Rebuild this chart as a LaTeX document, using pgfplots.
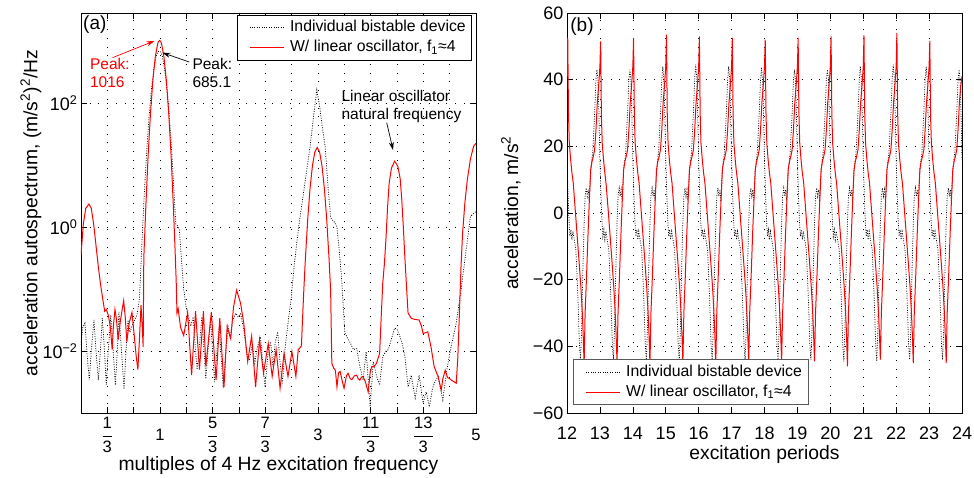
\documentclass[border=0pt]{standalone}
\usepackage{fontspec}
\setmainfont{Liberation Sans}
\usepackage{pgfplots}
\pgfplotsset{compat=1.18}
\usetikzlibrary{arrows.meta}
\newcommand{\fr}[2]{$\displaystyle\frac{\mbox{#1}}{\mbox{#2}}$}
\begin{document}
\begin{tikzpicture}
\path[use as bounding box] (0,0) rectangle (974pt,477pt);
\pgfplotsset{
  myaxis/.style={
    scale only axis, width=395pt, height=400pt,
    axis line style={line width=0.8pt},
    every tick/.style={black, line width=0.6pt},
    major tick length=6pt,
    tick align=inside,
    /pgf/number format/assume math mode=true,
    tick label style={font=\fontsize{18}{20}\selectfont},
    label style={font=\fontsize{19.3}{22}\selectfont},
    grid=major,
    major grid style={black, line width=0.6pt, dash pattern=on 1pt off 7.7pt},
    legend cell align=left,
    legend image code/.code={\draw[##1] (8pt,0pt) -- (42pt,0pt); \path (0pt,0pt) (46pt,0pt);},
    legend style={font=\fontsize{15.8}{18}\selectfont, fill=white, line width=0.6pt,
      inner xsep=4pt, inner ysep=3pt, row sep=1pt,
      nodes={inner sep=2pt, text height=11.5pt, text depth=3.5pt}},
  },
  blk/.style={black, line width=0.75pt, dash pattern=on 0.9pt off 1.5pt},
  rd/.style={red, line width=1pt},
}
% ---------------- (a) ----------------
\begin{axis}[myaxis, at={(81pt,64pt)}, anchor=south west,
  xmin=0, xmax=5, ymode=log, ymin=1e-3, ymax=2818,
  xtick={0.33333,0.66667,1,1.33333,1.66667,2,2.33333,2.66667,3,3.33333,3.66667,4,4.33333,4.66667,5},
  xticklabels={\fr{1}{3},,1,,\fr{5}{3},,\fr{7}{3},,3,,\fr{11}{3},,\fr{13}{3},,5},
  xticklabel style={font=\fontsize{16.5}{18}\selectfont, anchor=center, yshift=-22pt, inner sep=0pt},
  ytick={1e-2,1,1e2},
  yticklabels={10\textsuperscript{−2},10\textsuperscript{0},10\textsuperscript{2}},
  minor ytick={},
  xlabel={multiples of 4 Hz excitation frequency},
  ylabel={acceleration autospectrum, (m/s\textsuperscript{2})\textsuperscript{2}/Hz},
  xlabel style={at={(axis description cs:0.5,-0.132)}, anchor=center, inner sep=0pt},
  ylabel style={at={(axis description cs:-0.127,0.5)}, anchor=center},
  legend style={at={(0.99,0.995)}, anchor=north east, draw=black},
]
\addplot[blk] coordinates {
(0.00,0.0126)(0.025,0.0251)(0.05,0.0282)(0.08,0.00794)(0.105,0.00339)(0.13,0.0100)
(0.164,0.0316)(0.19,0.0100)(0.22,0.00339)(0.245,0.0100)(0.27,0.0339)(0.295,0.0112)
(0.32,0.00282)(0.345,0.0100)(0.377,0.0380)(0.405,0.0112)(0.435,0.00282)(0.46,0.0100)
(0.48,0.0427)(0.51,0.0112)(0.545,0.00240)(0.57,0.0100)(0.595,0.0316)(0.62,0.0200)
(0.65,0.0263)(0.68,0.0316)(0.71,0.0380)(0.74,0.0708)(0.76,0.257)(0.77,0.501)
(0.78,0.955)(0.80,3.16)(0.83,15.5)(0.86,56.2)(0.89,158)(0.92,339)(0.95,562)
(0.97,661)(0.99,685.1)(1.01,661)(1.03,562)(1.06,339)(1.09,158)(1.12,56.2)(1.15,15.5)
(1.18,3.16)(1.20,1.12)(1.22,1.05)(1.245,0.891)(1.27,0.316)(1.30,0.100)(1.33,0.0513)
(1.36,0.0355)(1.39,0.0251)(1.42,0.0355)(1.445,0.0126)(1.47,0.00501)(1.50,0.0126)
(1.53,0.0355)(1.555,0.0112)(1.58,0.00355)(1.61,0.0112)(1.64,0.0316)(1.665,0.0100)
(1.69,0.00316)(1.72,0.0100)(1.75,0.0251)(1.775,0.00794)(1.80,0.00251)(1.83,0.00891)
(1.86,0.0251)(1.89,0.0158)(1.92,0.0316)(1.96,0.0407)(1.99,0.0355)(2.02,0.0398)
(2.06,0.0224)(2.10,0.00891)(2.13,0.00708)(2.17,0.0126)(2.20,0.00631)(2.23,0.0112)
(2.27,0.0170)(2.33,0.00263)(2.37,0.0100)(2.40,0.0141)(2.43,0.00562)(2.46,0.0141)
(2.49,0.0204)(2.52,0.00631)(2.55,0.00302)(2.58,0.0100)(2.62,0.0282)(2.66,0.0708)
(2.70,0.251)(2.755,1.00)(2.80,2.51)(2.85,7.08)(2.90,20.0)(2.95,70.8)(2.985,162)
(3.02,89.1)(3.05,44.7)(3.09,20.0)(3.13,3.98)(3.16,1.41)(3.19,1.26)(3.22,1.15)
(3.24,1.00)(3.27,0.398)(3.30,0.141)(3.34,0.0195)(3.38,0.0158)(3.42,0.0126)
(3.45,0.0105)(3.49,0.0110)(3.53,0.00562)(3.57,0.00339)(3.61,0.00977)(3.66,0.00126)
(3.70,0.00676)(3.74,0.00398)(3.78,0.00282)(3.82,0.00813)(3.86,0.0100)(3.89,0.0105)
(3.93,0.0158)(3.97,0.0234)(4.00,0.0224)(4.03,0.0182)(4.07,0.0126)(4.10,0.00813)
(4.14,0.00263)(4.18,0.00407)(4.23,0.00174)(4.28,0.00407)(4.33,0.00145)(4.37,0.00219)
(4.41,0.00126)(4.45,0.00251)(4.48,0.00316)(4.52,0.00389)(4.58,0.00162)(4.63,0.00490)
(4.68,0.0110)(4.75,0.0282)(4.81,0.0955)(4.87,0.380)(4.93,1.48)(5.00,1.78)
};
\addlegendentry{Individual bistable device}
\addplot[rd] coordinates {
(0.00,0.355)(0.03,1.12)(0.06,2.00)(0.10,2.34)(0.13,2.00)(0.16,1.12)(0.19,0.501)
(0.22,0.224)(0.25,0.112)(0.28,0.0631)(0.30,0.0437)(0.32,0.0468)(0.345,0.0380)
(0.37,0.0251)(0.395,0.0105)(0.41,0.0251)(0.43,0.0468)(0.45,0.0316)(0.47,0.0151)
(0.50,0.0316)(0.54,0.0646)(0.56,0.0355)(0.58,0.0141)(0.61,0.0282)(0.645,0.0417)
(0.67,0.0200)(0.70,0.00794)(0.72,0.00501)(0.74,0.0158)(0.76,0.0550)(0.775,0.0251)
(0.787,0.0117)(0.795,0.316)(0.82,2.04)(0.85,14.5)(0.88,69.2)(0.91,234)(0.94,550)
(0.97,891)(0.98,977)(0.995,1016)(1.01,977)(1.02,891)(1.05,550)(1.08,234)(1.11,69.2)
(1.14,14.5)(1.17,2.04)(1.19,0.457)(1.205,0.135)(1.215,0.0407)(1.23,0.0479)
(1.26,0.0240)(1.30,0.0178)(1.35,0.0417)(1.40,0.00407)(1.45,0.0437)(1.50,0.00501)
(1.55,0.0437)(1.58,0.00562)(1.65,0.0427)(1.71,0.00339)(1.757,0.0339)(1.81,0.00263)
(1.85,0.0245)(1.895,0.0158)(1.93,0.0501)(1.97,0.0955)(2.02,0.0589)(2.06,0.0282)
(2.11,0.00676)(2.16,0.0174)(2.21,0.00263)(2.26,0.0151)(2.31,0.00437)(2.37,0.0132)
(2.42,0.00389)(2.47,0.0105)(2.52,0.00251)(2.57,0.00912)(2.62,0.00389)(2.67,0.00977)
(2.72,0.00389)(2.75,0.0105)(2.79,0.0120)(2.80,0.0245)(2.82,0.0933)(2.84,0.302)
(2.87,1.35)(2.90,4.27)(2.93,9.77)(2.96,16.2)(2.99,19.1)(3.02,16.2)(3.05,9.77)
(3.08,4.27)(3.11,1.35)(3.14,0.302)(3.16,0.0933)(3.175,0.00631)(3.20,0.00525)
(3.22,0.00490)(3.24,0.00263)(3.26,0.00447)(3.28,0.00468)(3.31,0.00316)(3.33,0.00251)
(3.36,0.00398)(3.38,0.00437)(3.41,0.00355)(3.43,0.00347)(3.46,0.00398)(3.49,0.00407)
(3.51,0.00355)(3.53,0.00339)(3.55,0.00380)(3.57,0.00389)(3.60,0.00316)(3.635,0.00219)
(3.66,0.00447)(3.68,0.00562)(3.71,0.00562)(3.74,0.00631)(3.76,0.00759)(3.78,0.00912)
(3.80,0.0355)(3.82,0.126)(3.84,0.251)(3.86,0.631)(3.88,2.00)(3.90,5.01)(3.93,8.91)
(3.97,11.5)(4.01,9.55)(4.04,6.03)(4.06,2.82)(4.08,1.00)(4.10,0.316)(4.12,0.112)
(4.14,0.0407)(4.18,0.0339)(4.22,0.0324)(4.28,0.0316)(4.31,0.0251)(4.33,0.0191)
(4.35,0.0195)(4.39,0.0204)(4.43,0.0117)(4.47,0.00562)(4.50,0.00447)(4.52,0.00389)
(4.56,0.00234)(4.58,0.00355)(4.61,0.00490)(4.64,0.00372)(4.66,0.00363)(4.70,0.00331)
(4.75,0.00302)(4.77,0.00794)(4.79,0.0407)(4.81,0.224)(4.83,0.794)(4.86,2.51)
(4.89,5.75)(4.93,12.6)(4.97,20.0)(5.00,22.4)
};
\addlegendentry{W/ linear oscillator, f\textsubscript{1}≈4}
\node[anchor=west, inner sep=0pt, font=\fontsize{19}{22}\selectfont] at (rel axis cs:0.005,0.97) {(a)};
\node[anchor=north west, align=left, inner sep=0pt, text=red, font=\fontsize{15.5}{18.3}\selectfont] at (axis cs:0.113,532) {Peak:\\1016};
\node[anchor=north west, align=left, inner sep=0pt, font=\fontsize{15.5}{18.3}\selectfont] at (axis cs:1.409,532) {Peak:\\685.1};
\node[anchor=north west, align=left, inner sep=0pt, font=\fontsize{15.5}{18.3}\selectfont] at (axis cs:3.296,163) {Linear oscillator\\natural frequency};
\draw[red, line width=0.7pt, -{Stealth[length=8pt,width=5pt]}] (axis cs:0.40,537) -- (axis cs:0.93,1000);
\draw[black, line width=0.7pt, -{Stealth[length=8pt,width=5pt]}] (axis cs:1.37,457) -- (axis cs:1.03,646);
\draw[black, line width=0.7pt, -{Stealth[length=8pt,width=5pt]}] (axis cs:3.87,47.9) -- (axis cs:3.95,17.4);
\end{axis}
% ---------------- (b) ----------------
\begin{axis}[myaxis, at={(567pt,64pt)}, anchor=south west,
  xmin=12, xmax=24, ymin=-60, ymax=60,
  xtick={12,13,14,15,16,17,18,19,20,21,22,23,24},
  xticklabels={12,13,14,15,16,17,18,19,20,21,22,23,24},
  ytick={-60,-40,-20,0,20,40,60},
  yticklabels={−60,−40,−20,0,20,40,60},
  xticklabel style={anchor=center, yshift=-20pt},
  xlabel={excitation periods},
  ylabel={acceleration, m/s\textsuperscript{2}},
  xlabel style={at={(axis description cs:0.5,-0.105)}, anchor=center},
  ylabel style={at={(axis description cs:-0.142,0.5)}, anchor=center},
  legend style={at={(0.015,0.02)}, anchor=south west, draw=black!65},
]
\addplot[blk] coordinates {
(12.000,16)(12.030,6)(12.060,-2)(12.090,-7)(12.120,-5)(12.150,-8)(12.180,-5.5)(12.220,-8)(12.270,-11)(12.330,-25)(12.380,-40)(12.410,-44)(12.440,-36)(12.480,-18)(12.520,-3)(12.550,5)(12.585,7.5)(12.615,5)(12.645,7)(12.675,3.5)(12.720,13)(12.780,18)(12.840,30)(12.880,40)(12.910,43)(12.940,40)(12.970,30)
(13.000,16)(13.030,6)(13.060,-2)(13.090,-7)(13.120,-5)(13.150,-8)(13.180,-5.5)(13.220,-8)(13.270,-11)(13.330,-25)(13.380,-40)(13.410,-44)(13.440,-36)(13.480,-18)(13.520,-3)(13.550,5)(13.585,7.5)(13.615,5)(13.645,7)(13.675,3.5)(13.720,13)(13.780,18)(13.840,30)(13.880,40)(13.910,43)(13.940,40)(13.970,30)
(14.000,16)(14.030,6)(14.060,-2)(14.090,-7)(14.120,-5)(14.150,-8)(14.180,-5.5)(14.220,-8)(14.270,-11)(14.330,-25)(14.380,-40)(14.410,-44)(14.440,-36)(14.480,-18)(14.520,-3)(14.550,5)(14.585,7.5)(14.615,5)(14.645,7)(14.675,3.5)(14.720,13)(14.780,18)(14.840,30)(14.880,40)(14.910,44)(14.940,40.5)(14.970,30)
(15.000,16)(15.030,6)(15.060,-2)(15.090,-7)(15.120,-5)(15.150,-8)(15.180,-5.5)(15.220,-8)(15.270,-11)(15.330,-25)(15.380,-40)(15.410,-44.5)(15.440,-36)(15.480,-18)(15.520,-3)(15.550,5)(15.585,7.5)(15.615,5)(15.645,7)(15.675,3.5)(15.720,13)(15.780,18)(15.840,30)(15.880,40.5)(15.910,44.5)(15.940,41)(15.970,30)
(16.000,16)(16.030,6)(16.060,-2)(16.090,-7)(16.120,-5)(16.150,-8)(16.180,-5.5)(16.220,-8)(16.270,-11)(16.330,-25)(16.380,-40)(16.410,-44)(16.440,-36)(16.480,-18)(16.520,-3)(16.550,5)(16.585,7.5)(16.615,5)(16.645,7)(16.675,3.5)(16.720,13)(16.780,18)(16.840,30)(16.880,40)(16.910,44)(16.940,40.5)(16.970,30)
(17.000,16)(17.030,6)(17.060,-2)(17.090,-7)(17.120,-5)(17.150,-8)(17.180,-5.5)(17.220,-8)(17.270,-11)(17.330,-25)(17.380,-40)(17.410,-44)(17.440,-36)(17.480,-18)(17.520,-3)(17.550,5)(17.585,7.5)(17.615,5)(17.645,7)(17.675,3.5)(17.720,13)(17.780,18)(17.840,30)(17.880,40)(17.910,43.5)(17.940,40)(17.970,30)
(18.000,16)(18.030,6)(18.060,-2)(18.090,-7)(18.120,-5)(18.150,-8)(18.180,-5.5)(18.220,-8)(18.270,-11)(18.330,-25)(18.380,-40)(18.410,-44)(18.440,-36)(18.480,-18)(18.520,-3)(18.550,5)(18.585,7.5)(18.615,5)(18.645,7)(18.675,3.5)(18.720,13)(18.780,18)(18.840,30)(18.880,40)(18.910,43)(18.940,40)(18.970,30)
(19.000,16)(19.030,6)(19.060,-2)(19.090,-7)(19.120,-5)(19.150,-8)(19.180,-5.5)(19.220,-8)(19.270,-11)(19.330,-25)(19.380,-40)(19.410,-44)(19.440,-36)(19.480,-18)(19.520,-3)(19.550,5)(19.585,7.5)(19.615,5)(19.645,7)(19.675,3.5)(19.720,13)(19.780,18)(19.840,30)(19.880,40)(19.910,43)(19.940,40)(19.970,30)
(20.000,16)(20.030,6)(20.060,-2)(20.090,-7)(20.120,-5)(20.150,-8)(20.180,-5.5)(20.220,-8)(20.270,-11)(20.330,-25)(20.380,-40)(20.410,-44.5)(20.440,-36)(20.480,-18)(20.520,-3)(20.550,5)(20.585,7.5)(20.615,5)(20.645,7)(20.675,3.5)(20.720,13)(20.780,18)(20.840,30)(20.880,40)(20.910,44)(20.940,40.5)(20.970,30)
(21.000,16)(21.030,6)(21.060,-2)(21.090,-7)(21.120,-5)(21.150,-8)(21.180,-5.5)(21.220,-8)(21.270,-11)(21.330,-25)(21.380,-40)(21.410,-44.5)(21.440,-36)(21.480,-18)(21.520,-3)(21.550,5)(21.585,7.5)(21.615,5)(21.645,7)(21.675,3.5)(21.720,13)(21.780,18)(21.840,30)(21.880,40.5)(21.910,44.5)(21.940,41)(21.970,30)
(22.000,16)(22.030,6)(22.060,-2)(22.090,-7)(22.120,-5)(22.150,-8)(22.180,-5.5)(22.220,-8)(22.270,-11)(22.330,-25)(22.380,-40)(22.410,-44)(22.440,-36)(22.480,-18)(22.520,-3)(22.550,5)(22.585,7.5)(22.615,5)(22.645,7)(22.675,3.5)(22.720,13)(22.780,18)(22.840,30)(22.880,40)(22.910,44)(22.940,40.5)(22.970,30)
(23.000,16)(23.030,6)(23.060,-2)(23.090,-7)(23.120,-5)(23.150,-8)(23.180,-5.5)(23.220,-8)(23.270,-11)(23.330,-25)(23.380,-40)(23.410,-44)(23.440,-36)(23.480,-18)(23.520,-3)(23.550,5)(23.585,7.5)(23.615,5)(23.645,7)(23.675,3.5)(23.720,13)(23.780,18)(23.840,30)(23.880,40)(23.910,43)(23.940,40)(23.970,30)
(24.000,16)
};
\addlegendentry{Individual bistable device}
\addplot[rd] coordinates {
(12.000,41)(12.022,52.6)(12.045,30)(12.070,21)(12.110,16)(12.150,12)(12.190,9)(12.250,1)(12.310,-7)(12.370,-15)(12.420,-22)(12.460,-29)(12.490,-36)(12.520,-45.5)(12.550,-30)(12.590,-20)(12.640,-6)(12.680,4)(12.720,13)(12.760,15.5)(12.800,17)(12.840,19)(12.880,25)(12.920,33)(12.960,38)
(13.000,44)(13.022,51.5)(13.045,29)(13.070,21)(13.110,16)(13.150,12)(13.190,8.5)(13.250,1)(13.310,-7)(13.370,-15)(13.420,-22)(13.460,-29)(13.490,-36)(13.520,-45)(13.550,-30)(13.590,-20)(13.640,-6)(13.680,4)(13.720,13)(13.760,15.5)(13.800,17)(13.840,19)(13.880,25)(13.920,33)(13.960,38)
(14.000,44)(14.022,52.5)(14.045,30)(14.070,21)(14.110,16)(14.150,12)(14.190,9)(14.250,1)(14.310,-7)(14.370,-15)(14.420,-22)(14.460,-29)(14.490,-36)(14.520,-45.5)(14.550,-30)(14.590,-20)(14.640,-6)(14.680,4)(14.720,13)(14.760,15.5)(14.800,17)(14.840,19)(14.880,25)(14.920,33)(14.960,38)
(15.000,44)(15.022,53.5)(15.045,30)(15.070,21)(15.110,16)(15.150,12)(15.190,9)(15.250,1)(15.310,-7)(15.370,-15)(15.420,-22)(15.460,-29)(15.490,-36)(15.520,-45)(15.550,-30)(15.590,-20)(15.640,-6)(15.680,4)(15.720,13)(15.760,15.5)(15.800,17)(15.840,19)(15.880,25)(15.920,33)(15.960,38)
(16.000,44)(16.022,53)(16.045,30)(16.070,21)(16.110,16)(16.150,12)(16.190,9)(16.250,1)(16.310,-7)(16.370,-15)(16.420,-22)(16.460,-29)(16.490,-36)(16.520,-45.5)(16.550,-30)(16.590,-20)(16.640,-6)(16.680,4)(16.720,13)(16.760,15.5)(16.800,17)(16.840,19)(16.880,25)(16.920,33)(16.960,38)
(17.000,44)(17.022,52.5)(17.045,30)(17.070,21)(17.110,16)(17.150,12)(17.190,9)(17.250,1)(17.310,-7)(17.370,-15)(17.420,-22)(17.460,-29)(17.490,-36)(17.520,-45)(17.550,-30)(17.590,-20)(17.640,-6)(17.680,4)(17.720,13)(17.760,15.5)(17.800,17)(17.840,19)(17.880,25)(17.920,33)(17.960,38)
(18.000,44)(18.022,52)(18.045,30)(18.070,21)(18.110,16)(18.150,12)(18.190,9)(18.250,1)(18.310,-7)(18.370,-15)(18.420,-22)(18.460,-29)(18.490,-36)(18.520,-44.5)(18.550,-30)(18.590,-20)(18.640,-6)(18.680,4)(18.720,13)(18.760,15.5)(18.800,17)(18.840,19)(18.880,25)(18.920,33)(18.960,38)
(19.000,44)(19.022,52.5)(19.045,30)(19.070,21)(19.110,16)(19.150,12)(19.190,9)(19.250,1)(19.310,-7)(19.370,-15)(19.420,-22)(19.460,-29)(19.490,-36)(19.520,-44.5)(19.550,-30)(19.590,-20)(19.640,-6)(19.680,4)(19.720,13)(19.760,15.5)(19.800,17)(19.840,19)(19.880,25)(19.920,33)(19.960,38)
(20.000,44)(20.022,53)(20.045,30)(20.070,21)(20.110,16)(20.150,12)(20.190,9)(20.250,1)(20.310,-7)(20.370,-15)(20.420,-22)(20.460,-29)(20.490,-36)(20.520,-46)(20.550,-30)(20.590,-20)(20.640,-6)(20.680,4)(20.720,13)(20.760,15.5)(20.800,17)(20.840,19)(20.880,25)(20.920,33)(20.960,38)
(21.000,44)(21.022,53.3)(21.045,30)(21.070,21)(21.110,16)(21.150,12)(21.190,9)(21.250,1)(21.310,-7)(21.370,-15)(21.420,-22)(21.460,-29)(21.490,-36)(21.520,-44)(21.550,-30)(21.590,-20)(21.640,-6)(21.680,4)(21.720,13)(21.760,15.5)(21.800,17)(21.840,19)(21.880,25)(21.920,33)(21.960,38)
(22.000,44)(22.022,54)(22.045,30)(22.070,21)(22.110,16)(22.150,12)(22.190,9)(22.250,1)(22.310,-7)(22.370,-15)(22.420,-22)(22.460,-29)(22.490,-36)(22.520,-45)(22.550,-30)(22.590,-20)(22.640,-6)(22.680,4)(22.720,13)(22.760,15.5)(22.800,17)(22.840,19)(22.880,25)(22.920,33)(22.960,38)
(23.000,44)(23.022,51.6)(23.045,29)(23.070,21)(23.110,16)(23.150,12)(23.190,9)(23.250,1)(23.310,-7)(23.370,-15)(23.420,-22)(23.460,-29)(23.490,-36)(23.520,-45)(23.550,-30)(23.590,-20)(23.640,-6)(23.680,4)(23.720,13)(23.760,15.5)(23.800,17)(23.840,19)(23.880,25)(23.920,33)(23.960,38)
(24.000,41)
};
\addlegendentry{W/ linear oscillator, f\textsubscript{1}≈4}
\node[anchor=west, inner sep=0pt, font=\fontsize{19}{22}\selectfont] at (rel axis cs:0.008,0.966) {(b)};
\end{axis}
\end{tikzpicture}
\end{document}
